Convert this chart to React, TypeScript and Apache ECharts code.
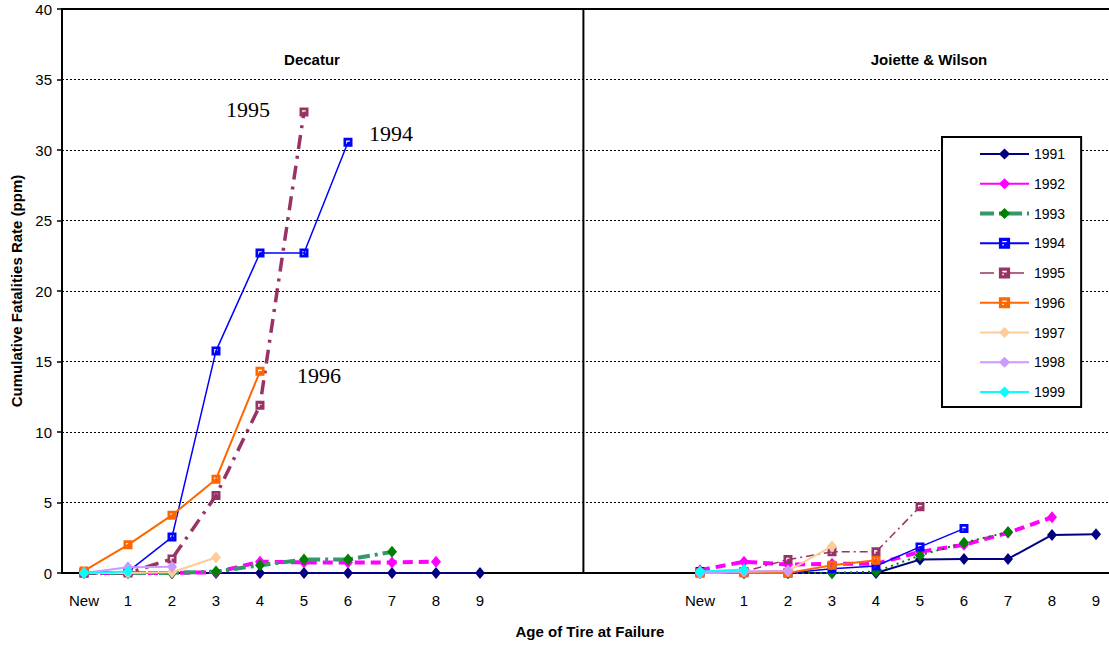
import React, { useEffect, useRef } from "react";
import * as echarts from "echarts";

const panelCategories = ["New", "1", "2", "3", "4", "5", "6", "7", "8", "9"];
const gapCategories = ["", "", "", ""];
const years = ["1991", "1992", "1993", "1994", "1995", "1996", "1997", "1998", "1999"];
const yTicks = { min: 0, max: 40, interval: 5 };

// Decatur (left panel), index New..9
const dec1991 = [0, 0, 0, 0, 0, 0, 0, 0, 0, 0];
const dec1992 = [0, 0, 0, 0.05, 0.8, 0.75, 0.75, 0.75, 0.8, null];
const dec1993 = [0, 0, 0, 0.1, 0.55, 0.95, 0.95, 1.5, null, null];
const dec1994 = [0, 0.1, 2.55, 15.75, 22.7, 22.7, 30.55, null, null, null];
const dec1995 = [0, 0, 1.0, 5.5, 11.9, 32.7, null, null, null, null];
const dec1996 = [0.15, 2.0, 4.1, 6.65, 14.3, null, null, null, null, null];
const dec1997 = [0, 0, 0.05, 1.1, null, null, null, null, null, null];
const dec1998 = [0, 0.4, 0.45, null, null, null, null, null, null, null];
const dec1999 = [0, 0.1, null, null, null, null, null, null, null, null];

// Joiette & Wilson (right panel), index New..9
const jw1991 = [0, 0, 0, 0, 0, 0.95, 1.0, 1.0, 2.7, 2.75];
const jw1992 = [0.2, 0.8, 0.6, 0.65, 0.65, 1.5, 2.0, 2.85, 3.95, null];
const jw1993 = [0, 0, 0, 0, 0.1, 1.25, 2.15, 2.9, null, null];
const jw1994 = [0.1, 0.05, 0, 0.3, 0.5, 1.85, 3.15, null, null, null];
const jw1995 = [0, 0.1, 0.95, 1.5, 1.5, 4.7, null, null, null, null];
const jw1996 = [0, 0, 0, 0.55, 0.9, null, null, null, null, null];
const jw1997 = [0, 0.1, 0.15, 1.9, null, null, null, null, null, null];
const jw1998 = [0, 0.1, 0.15, null, null, null, null, null, null, null];
const jw1999 = [0.1, 0.25, null, null, null, null, null, null, null, null];

const decatur = [dec1991, dec1992, dec1993, dec1994, dec1995, dec1996, dec1997, dec1998, dec1999];
const joiette = [jw1991, jw1992, jw1993, jw1994, jw1995, jw1996, jw1997, jw1998, jw1999];

const SQUARE = "path://M0 0H10V10H0Z M3 3V7H4.5V4.5H7V3Z";

type Sty = { line: string; marker: string; symbol: string; size: number | number[]; width: number; type: any };

const leftStyles: Sty[] = [
  { line: "#000080", marker: "#000080", symbol: "diamond", size: [10, 12], width: 2, type: "solid" },
  { line: "#FF00FF", marker: "#FF00FF", symbol: "diamond", size: [10, 12], width: 4, type: [10, 6] },
  { line: "#339966", marker: "#008000", symbol: "diamond", size: [10, 12], width: 4, type: [12, 5, 3, 5] },
  { line: "#0000FF", marker: "#0000FF", symbol: SQUARE, size: 9, width: 1.5, type: "solid" },
  { line: "#993366", marker: "#993366", symbol: SQUARE, size: 9, width: 3.5, type: [14, 7, 3, 7] },
  { line: "#FF6600", marker: "#FF6600", symbol: SQUARE, size: 9, width: 2, type: "solid" },
  { line: "#FFCC99", marker: "#FFCC99", symbol: "diamond", size: [10, 12], width: 2, type: "solid" },
  { line: "#CC99FF", marker: "#CC99FF", symbol: "diamond", size: [10, 12], width: 2, type: "solid" },
  { line: "#00FFFF", marker: "#00FFFF", symbol: "diamond", size: [10, 12], width: 2, type: "solid" },
];

const rightStyles: Sty[] = leftStyles.map((s, i) => {
  if (i === 2) return { ...s, line: "#008000", width: 2, type: [2, 4] };
  if (i === 4) return { ...s, width: 1.5, type: [8, 4, 2, 4] };
  return s;
});

const legendLineOverrides: Record<string, any> = {
  "1992": { width: 2, type: "solid" },
  "1993": { width: 4, type: [14, 5, 4, 5] },
  "1995": { width: 1.5, type: [14, 6, 4, 6] },
};

export default function App() {
  const ref = useRef<HTMLDivElement>(null);
  useEffect(() => {
    if (!ref.current) return;
    const chart = echarts.init(ref.current, null, { renderer: "svg" });
    const gridLeft = 62;
    const gridTop = 9;
    const catW = 44;
    const xData = [...panelCategories, ...gapCategories, ...panelCategories];
    const gapNulls = gapCategories.map(() => null);
    const mk = (name: string, data: any[], s: Sty, z: number) => ({
      name,
      type: "line",
      data,
      z,
      symbol: s.symbol,
      symbolSize: s.size,
      symbolKeepAspect: true,
      connectNulls: false,
      lineStyle: { color: s.line, width: s.width, type: s.type },
      itemStyle: { color: s.marker, borderWidth: 0 },
      emphasis: { disabled: true },
    });
    const series: any[] = [];
    years.forEach((y, i) => {
      series.push(mk(y, [...decatur[i], ...gapNulls, ...panelCategories.map(() => null)], leftStyles[i], 2 + i));
    });
    years.forEach((y, i) => {
      series.push(mk(y, [...panelCategories.map(() => null), ...gapNulls, ...joiette[i]], rightStyles[i], 2 + i));
    });
    const font = "Liberation Sans, Arial, sans-serif";
    const legendData = years.map((y) =>
      legendLineOverrides[y] ? { name: y, lineStyle: legendLineOverrides[y] } : { name: y }
    );
    chart.setOption({
      animation: false,
      backgroundColor: "#fff",
      grid: {
        left: gridLeft,
        top: gridTop,
        width: catW * xData.length,
        height: 564,
        show: true,
        borderColor: "#000",
        borderWidth: 2,
        backgroundColor: "#fff",
      },
      xAxis: {
        type: "category",
        data: xData,
        boundaryGap: true,
        axisLine: { lineStyle: { color: "#000", width: 2 } },
        axisTick: { show: false },
        axisLabel: { color: "#000", fontSize: 15, fontFamily: font, margin: 20, interval: 0 },
        name: "Age of Tire at Failure",
        nameLocation: "middle",
        nameGap: 51,
        nameTextStyle: { color: "#000", fontSize: 15, fontWeight: "bold", fontFamily: font },
        splitLine: { show: false },
      },
      yAxis: {
        type: "value",
        min: yTicks.min,
        max: yTicks.max,
        interval: yTicks.interval,
        axisLine: { show: true, lineStyle: { color: "#000", width: 2 } },
        axisTick: { show: true, length: 5, lineStyle: { color: "#000", width: 1.5 } },
        axisLabel: { color: "#000", fontSize: 15, fontFamily: font, margin: 10 },
        splitLine: { show: true, lineStyle: { color: "#000", width: 1, type: [2, 2] } },
        name: "Cumulative Fatalities Rate (ppm)",
        nameLocation: "middle",
        nameGap: 37,
        nameTextStyle: { color: "#000", fontSize: 15, fontWeight: "bold", fontFamily: font },
      },
      legend: {
        orient: "vertical",
        left: 942,
        top: 137,
        padding: [10, 16, 8, 36],
        itemWidth: 49,
        itemHeight: 14,
        itemGap: 15.75,
        borderColor: "#000",
        borderWidth: 2,
        backgroundColor: "#fff",
        data: legendData,
        selectedMode: false,
        textStyle: { color: "#000", fontSize: 14, fontFamily: font },
      },
      graphic: [
        {
          type: "line",
          shape: { x1: gridLeft + 11.85 * catW, y1: gridTop, x2: gridLeft + 11.85 * catW, y2: gridTop + 564 },
          style: { stroke: "#000", lineWidth: 2 },
          z: 1,
        },
        {
          type: "text",
          x: 312,
          y: 59,
          style: { text: "Decatur", font: "bold 15px " + font, fill: "#000", textAlign: "center", textVerticalAlign: "middle" },
        },
        {
          type: "text",
          x: 929,
          y: 59,
          style: { text: "Joiette & Wilson", font: "bold 15px " + font, fill: "#000", textAlign: "center", textVerticalAlign: "middle" },
        },
        {
          type: "text",
          x: 226,
          y: 109,
          style: { text: "1995", font: "22px Liberation Serif, Times New Roman, serif", fill: "#000", textAlign: "left", textVerticalAlign: "middle" },
        },
        {
          type: "text",
          x: 369,
          y: 133,
          style: { text: "1994", font: "22px Liberation Serif, Times New Roman, serif", fill: "#000", textAlign: "left", textVerticalAlign: "middle" },
        },
        {
          type: "text",
          x: 297,
          y: 375,
          style: { text: "1996", font: "22px Liberation Serif, Times New Roman, serif", fill: "#000", textAlign: "left", textVerticalAlign: "middle" },
        },
      ],
      series,
    });
    return () => chart.dispose();
  }, []);
  return (
    <div style={{ position: "fixed", left: 0, top: 0, width: 1109, height: 645, overflow: "hidden", background: "#fff" }}>
      <div ref={ref} style={{ width: 1124, height: 645 }} />
    </div>
  );
}
